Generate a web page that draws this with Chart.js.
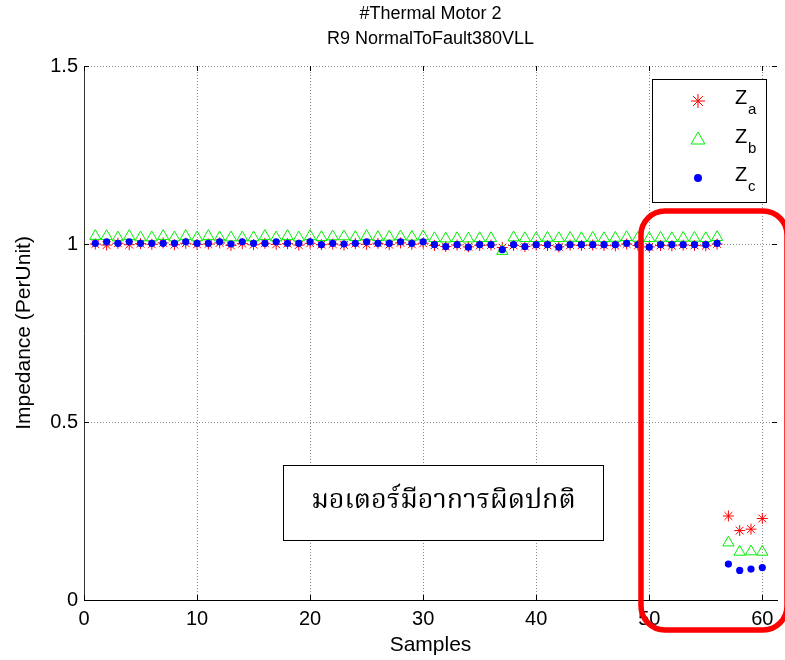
<!DOCTYPE html>
<html>
<head>
<meta charset="utf-8">
<title>Thermal Motor 2</title>
<script src="https://cdn.jsdelivr.net/npm/chart.js@4.4.0/dist/chart.umd.min.js"></script>
<style>
  html, body { margin: 0; padding: 0; background: #fff; }
  #wrap { width: 785px; height: 660px; }
</style>
</head>
<body>
<div id="wrap"><canvas id="motorChart" width="785" height="660"></canvas></div>
<script>
// Sample index (x axis)
const samples = [
  1, 2, 3, 4, 5, 6, 7, 8, 9, 10, 11, 12, 13, 14, 15, 16, 17, 18, 19, 20,
  21, 22, 23, 24, 25, 26, 27, 28, 29, 30, 31, 32, 33, 34, 35, 36, 37, 38, 39, 40,
  41, 42, 43, 44, 45, 46, 47, 48, 49, 50, 51, 52, 53, 54, 55, 56, 57, 58, 59, 60
];

// Per-unit impedance of each phase
const zaValues = [
  1.000, 0.997, 1.002, 0.998, 1.001, 0.999, 1.003, 0.998, 1.002, 0.999,
  1.000, 1.003, 0.996, 1.001, 0.998, 1.002, 0.999, 1.001, 0.997, 1.002,
  0.998, 1.000, 0.997, 1.001, 0.999, 1.002, 0.998, 1.003, 0.999, 1.002,
  0.996, 0.993, 0.997, 0.992, 0.996, 0.997, 0.990, 0.996, 0.993, 0.997,
  0.996, 0.992, 0.997, 0.996, 0.997, 0.996, 0.995, 1.000, 0.996, 0.992,
  0.996, 0.995, 0.997, 0.996, 0.995, 1.000, 0.236, 0.195, 0.199, 0.229
];
const zbValues = [
  1.022, 1.022, 1.018, 1.022, 1.018, 1.018, 1.022, 1.018, 1.022, 1.018,
  1.022, 1.018, 1.018, 1.018, 1.018, 1.022, 1.018, 1.022, 1.018, 1.022,
  1.019, 1.021, 1.021, 1.019, 1.022, 1.019, 1.020, 1.021, 1.020, 1.021,
  1.016, 1.015, 1.016, 1.015, 1.016, 1.016, 0.980, 1.018, 1.016, 1.016,
  1.017, 1.016, 1.017, 1.016, 1.017, 1.016, 1.017, 1.019, 1.017, 1.016,
  1.017, 1.016, 1.017, 1.017, 1.016, 1.019, 0.161, 0.135, 0.136, 0.135
];
const zcValues = [
  1.002, 1.006, 1.002, 1.006, 1.002, 1.002, 1.002, 1.002, 1.006, 1.002,
  1.002, 1.006, 1.000, 1.006, 1.002, 1.002, 1.006, 1.002, 1.002, 1.006,
  0.998, 1.002, 1.000, 1.002, 1.006, 1.002, 1.002, 1.006, 1.002, 1.006,
  0.998, 0.993, 0.998, 0.991, 0.998, 0.998, 0.984, 0.998, 0.993, 0.998,
  0.998, 0.991, 0.998, 0.998, 0.998, 0.998, 0.998, 1.002, 0.998, 0.991,
  0.998, 0.998, 0.998, 0.998, 0.998, 1.002, 0.101, 0.083, 0.087, 0.091
];

const xTicks = [0, 10, 20, 30, 40, 50, 60];
const yTicks = [0, 0.5, 1, 1.5];
const yTickLabels = ['0', '0.5', '1', '1.5'];
const titleLines = ['#Thermal Motor 2', 'R9 NormalToFault380VLL'];
const legendSubscripts = ['a', 'b', 'c'];
const faultNote = 'มอเตอร์มีอาการผิดปกติ';

const FONT = '"Liberation Sans Narrow", "Liberation Sans", Arial, sans-serif';
const THAI_FONT = '"Noto Serif Thai", "Noto Sans Thai", "Loma", "Garuda", "DejaVu Sans", sans-serif';

Chart.defaults.font.family = FONT;
Chart.defaults.color = '#000';

function toPoints(values) {
  return samples.map((s, i) => ({ x: s, y: values[i] }));
}

// marker looks: plot size, then legend size
const seriesStyles = [
  { pointStyle: 'star', radius: 5.5, legendRadius: 7, borderColor: '#ff0000', backgroundColor: '#ff0000', borderWidth: 1 },
  { pointStyle: 'triangle', radius: 6.5, legendRadius: 8, borderColor: '#00ee00', backgroundColor: 'rgba(0,0,0,0)', borderWidth: 1 },
  { pointStyle: 'circle', radius: 3.6, legendRadius: 4, borderColor: '#0000ff', backgroundColor: '#0000ff', borderWidth: 0 }
];

function makeDataset(label, values, style, order) {
  return {
    label: label,
    data: toPoints(values),
    showLine: false,
    order: order,
    pointStyle: style.pointStyle,
    pointRadius: style.radius,
    pointHoverRadius: style.radius,
    pointBorderColor: style.borderColor,
    pointBackgroundColor: style.backgroundColor,
    pointBorderWidth: style.borderWidth
  };
}

// Dotted grid, hidden where it sits on the axis line
function gridColor(ctx) {
  return ctx.tick && ctx.tick.value === 0 ? 'rgba(0,0,0,0)' : '#8a8a8a';
}

const overlayPlugin = {
  id: 'overlay',
  afterDraw(chart) {
    const { ctx, chartArea: area, scales } = chart;
    const xs = scales.x, ys = scales.y;
    ctx.save();

    // inward tick marks on all four sides
    ctx.strokeStyle = '#000';
    ctx.lineWidth = 1;
    ctx.beginPath();
    xTicks.forEach(v => {
      const px = Math.round(xs.getPixelForValue(v)) + 0.5;
      ctx.moveTo(px, area.bottom); ctx.lineTo(px, area.bottom - 5);
      ctx.moveTo(px, area.top); ctx.lineTo(px, area.top + 5);
    });
    yTicks.forEach(v => {
      const py = Math.round(ys.getPixelForValue(v)) + 0.5;
      ctx.moveTo(area.left, py); ctx.lineTo(area.left + 5, py);
      ctx.moveTo(area.right, py); ctx.lineTo(area.right - 5, py);
    });
    ctx.stroke();

    // title
    ctx.fillStyle = '#000';
    ctx.textAlign = 'center';
    ctx.textBaseline = 'middle';
    ctx.font = '18px ' + FONT;
    const cx = (area.left + area.right) / 2;
    ctx.fillText(titleLines[0], cx, 14);
    ctx.fillText(titleLines[1], cx, 39);

    // legend box
    const lg = { x: 652.5, y: 79.5, w: 114, h: 123 };
    ctx.fillStyle = '#fff';
    ctx.fillRect(lg.x, lg.y, lg.w, lg.h);
    ctx.strokeStyle = '#000';
    ctx.lineWidth = 1;
    ctx.strokeRect(lg.x, lg.y, lg.w, lg.h);
    const rowY = [101, 140, 178];
    chart.data.datasets.forEach((ds, i) => {
      const st = seriesStyles[i];
      ctx.strokeStyle = st.borderColor;
      ctx.fillStyle = st.backgroundColor;
      ctx.lineWidth = st.borderWidth || 1;
      if (Chart.helpers && Chart.helpers.drawPoint) {
        Chart.helpers.drawPoint(ctx, {
          pointStyle: st.pointStyle,
          radius: st.legendRadius,
          borderWidth: st.borderWidth,
          rotation: 0
        }, 698, rowY[i]);
      }
      ctx.fillStyle = '#000';
      ctx.textAlign = 'left';
      ctx.textBaseline = 'middle';
      ctx.font = '20px ' + FONT;
      ctx.fillText('Z', 735, rowY[i] - 3);
      ctx.font = '15px ' + FONT;
      ctx.fillText(legendSubscripts[i], 748, rowY[i] + 9);
    });

    // note box
    const nb = { x: 283.5, y: 465.5, w: 320, h: 75 };
    ctx.fillStyle = '#fff';
    ctx.fillRect(nb.x, nb.y, nb.w, nb.h);
    ctx.strokeStyle = '#000';
    ctx.lineWidth = 1;
    ctx.strokeRect(nb.x, nb.y, nb.w, nb.h);
    ctx.fillStyle = '#000';
    ctx.textAlign = 'center';
    ctx.textBaseline = 'middle';
    ctx.font = '27px ' + THAI_FONT;
    ctx.fillText(faultNote, nb.x + nb.w / 2, nb.y + nb.h / 2 + 1);

    // red frame around the fault samples
    ctx.strokeStyle = '#ff0000';
    ctx.lineWidth = 5.5;
    ctx.beginPath();
    ctx.roundRect(641, 211, 146, 419, 24);
    ctx.stroke();

    ctx.restore();
  }
};

new Chart(document.getElementById('motorChart'), {
  type: 'scatter',
  data: {
    datasets: [
      makeDataset('Za', zaValues, seriesStyles[0], 3),
      makeDataset('Zb', zbValues, seriesStyles[1], 2),
      makeDataset('Zc', zcValues, seriesStyles[2], 1)
    ]
  },
  options: {
    responsive: false,
    animation: false,
    events: [],
    layout: { padding: { top: 66, right: 8, left: 0, bottom: 0 } },
    plugins: {
      legend: { display: false },
      title: { display: false },
      tooltip: { enabled: false }
    },
    scales: {
      x: {
        type: 'linear',
        min: 0,
        max: 61.3,
        afterBuildTicks: scale => { scale.ticks = xTicks.map(v => ({ value: v })); },
        afterFit: scale => { scale.height = 60; },
        grid: { color: gridColor, drawTicks: false, lineWidth: 1 },
        border: { display: true, color: '#000', width: 1, dash: [1, 2] },
        ticks: { padding: 7, font: { size: 20 }, color: '#000' },
        title: { display: true, text: 'Samples', font: { size: 21 }, padding: { top: 0, bottom: 2 } }
      },
      y: {
        type: 'linear',
        min: 0,
        max: 1.5,
        afterBuildTicks: scale => { scale.ticks = yTicks.map(v => ({ value: v })); },
        afterFit: scale => { scale.width = 84; },
        grid: { color: gridColor, drawTicks: false, lineWidth: 1 },
        border: { display: true, color: '#333', width: 1, dash: [1, 2] },
        ticks: {
          padding: 6,
          font: { size: 20 },
          color: '#000',
          callback: (value, index) => yTickLabels[index]
        },
        title: { display: true, text: 'Impedance (PerUnit)', font: { size: 21 }, padding: { top: 12, bottom: 0 } }
      }
    }
  },
  plugins: [overlayPlugin]
});
</script>
</body>
</html>
